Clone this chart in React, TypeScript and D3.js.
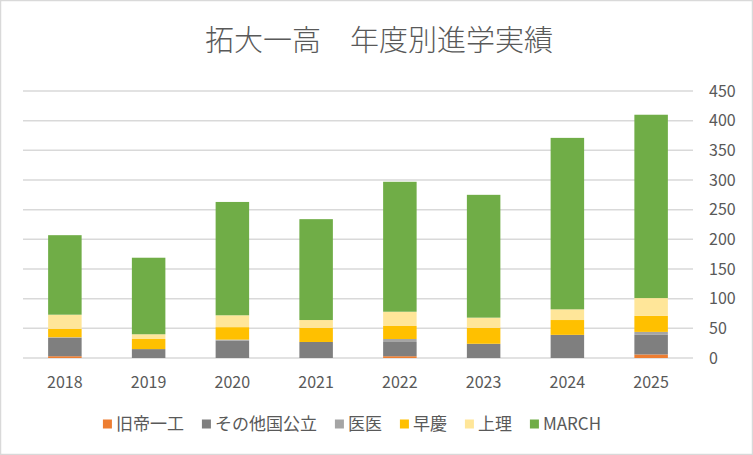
import * as d3 from "d3";
import { useEffect, useRef } from "react";

const years = ["2018", "2019", "2020", "2021", "2022", "2023", "2024", "2025"];
const seriesNames = ["旧帝一工", "その他国公立", "医医", "早慶", "上理", "MARCH"];
const seriesColors = ["#ED7D31", "#7F7F7F", "#A5A5A5", "#FFC000", "#FFE699", "#70AD47"];

const kyuteiIchiko = [3, 0, 0, 0, 3, 0, 0, 6];
const otherPublic = [31, 15, 29, 27, 24, 24, 39, 33];
const medical = [1, 0, 2, 0, 5, 0, 0, 5];
const soukei = [14, 17, 21, 24, 22, 27, 25, 27];
const jouri = [24, 8, 20, 13, 24, 17, 18, 30];
const march = [134, 129, 191, 170, 219, 207, 289, 309];

const yTicks = [0, 50, 100, 150, 200, 250, 300, 350, 400, 450];

const title = "拓大一高　年度別進学実績";

export default function App() {
    const ref = useRef<SVGSVGElement | null>(null);

    useEffect(() => {
        if (!ref.current) return;
        const svg = d3.select(ref.current);
        svg.selectAll("*").remove();

        const width = 753;
        const height = 455;
        const font = "'Noto Sans CJK JP', 'Noto Sans', sans-serif";
        const textColor = "#595959";

        svg.attr("width", width).attr("height", height);

        svg.append("rect")
            .attr("x", 0.5)
            .attr("y", 0.5)
            .attr("width", width - 1)
            .attr("height", height - 1)
            .attr("fill", "#fff")
            .attr("stroke", "#D9D9D9")
            .attr("stroke-width", 1.5);

        const plot = { left: 23, right: 693, top: 91, bottom: 358 };

        const x = d3.scaleBand().domain(years).range([plot.left, plot.right]).padding(0);
        const y = d3.scaleLinear().domain([0, 450]).range([plot.bottom, plot.top]);
        const barW = x.bandwidth() * 0.4;

        // gridlines
        svg.append("g")
            .selectAll("line")
            .data(yTicks)
            .join("line")
            .attr("x1", plot.left)
            .attr("x2", plot.right)
            .attr("y1", (d) => y(d))
            .attr("y2", (d) => y(d))
            .attr("stroke", "#D9D9D9")
            .attr("stroke-width", 1.5);

        // stacked bars
        const allSeries = [kyuteiIchiko, otherPublic, medical, soukei, jouri, march];
        const rows = years.map((yr, i) => {
            const row: { [k: string]: number | string } = { year: yr };
            seriesNames.forEach((name, s) => (row[name] = allSeries[s][i]));
            return row;
        });
        const stack = d3.stack<any>().keys(seriesNames)(rows);

        stack.forEach((layer, s) => {
            svg.append("g")
                .attr("fill", seriesColors[s])
                .selectAll("rect")
                .data(layer)
                .join("rect")
                .attr("x", (d) => x(d.data.year as string)! + (x.bandwidth() - barW) / 2)
                .attr("y", (d) => y(d[1]))
                .attr("width", barW)
                .attr("height", (d) => y(d[0]) - y(d[1]));
        });

        // x labels
        svg.append("g")
            .selectAll("text")
            .data(years)
            .join("text")
            .attr("x", (d) => x(d)! + x.bandwidth() / 2)
            .attr("y", 388)
            .attr("text-anchor", "middle")
            .attr("font-family", font)
            .attr("font-size", 16)
            .attr("fill", textColor)
            .text((d) => d);

        // y labels (right side)
        svg.append("g")
            .selectAll("text")
            .data(yTicks)
            .join("text")
            .attr("x", 709)
            .attr("y", (d) => y(d))
            .attr("dy", "0.36em")
            .attr("text-anchor", "start")
            .attr("font-family", font)
            .attr("font-size", 16)
            .attr("fill", textColor)
            .text((d) => d);

        // title
        svg.append("text")
            .attr("x", 379)
            .attr("y", 51)
            .attr("text-anchor", "middle")
            .attr("font-family", font)
            .attr("font-size", 29)
            .attr("font-weight", 300)
            .attr("fill", textColor)
            .text(title);

        // legend
        const legend = svg.append("g");
        let cursor = 0;
        seriesNames.forEach((name, s) => {
            const item = legend.append("g").attr("transform", `translate(${cursor},0)`);
            item.append("rect")
                .attr("x", 0)
                .attr("y", -4.5)
                .attr("width", 9)
                .attr("height", 9)
                .attr("fill", seriesColors[s]);
            const t = item.append("text")
                .attr("x", 13)
                .attr("dy", "0.36em")
                .attr("font-family", font)
                .attr("font-size", 17)
                .attr("fill", textColor)
                .text(name);
            const tw = (t.node() as SVGTextElement).getComputedTextLength();
            cursor += 13 + tw + 18;
        });
        const legendW = cursor - 18;
        legend.attr("transform", `translate(${352 - legendW / 2},424)`);
    }, []);

    return (
        <svg
            ref={ref}
            style={{ position: "absolute", left: 0, top: 0, display: "block" }}
        ></svg>
    );
}
